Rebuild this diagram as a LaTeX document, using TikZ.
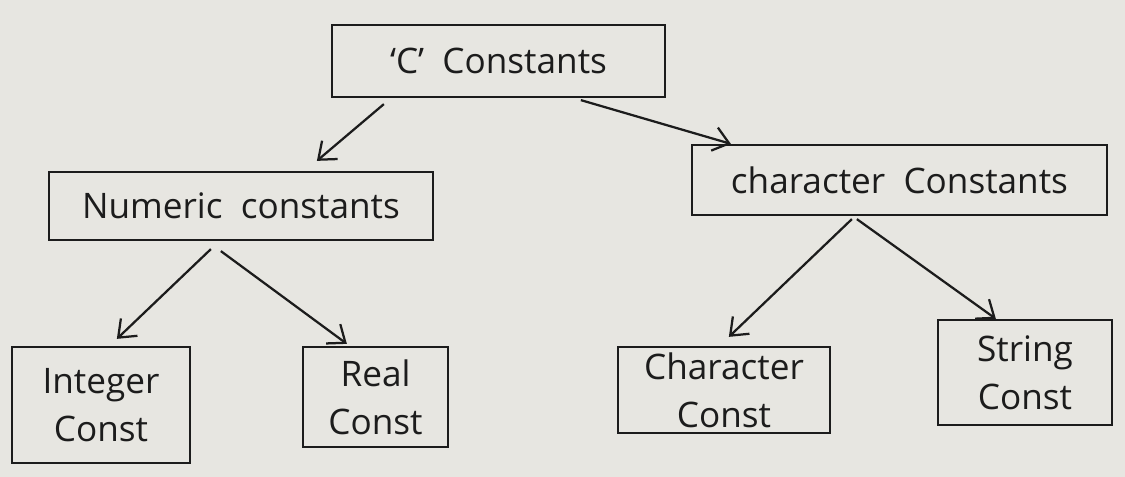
\documentclass[tikz,border=0pt]{standalone}
\usepackage{fontspec}
\setmainfont{Open Sans}
\usetikzlibrary{arrows.meta,calc}
\definecolor{paper}{HTML}{E7E6E1}
\definecolor{ink}{HTML}{1C1C1C}
\tikzset{
  box/.style={draw=ink, line width=1.6pt, rectangle, align=center, inner sep=0pt,
    font=\fontsize{25}{34}\selectfont, text=ink},
  arr/.style={draw=ink, line width=1.6pt, -{Straight Barb[length=3.8mm,width=6mm,line width=1.6pt]}}
}
\begin{document}
\begin{tikzpicture}[x=0.025cm,y=-0.025cm]
\fill[paper] (0,0) rectangle (1125,477);
\useasboundingbox (0,0) rectangle (1125,477);
\node[box, minimum width=333*0.025cm, minimum height=72*0.025cm] (c) at (498.5,61) {`C'\ \ Constants};
\node[box, minimum width=384*0.025cm, minimum height=68*0.025cm] (num) at (241,206) {Numeric\ \ constants};
\node[box, minimum width=415*0.025cm, minimum height=70*0.025cm] (chr) at (899.5,180) {character\ \ Constants};
\node[box, minimum width=178*0.025cm, minimum height=116*0.025cm] (int) at (101,405) {Integer\\Const};
\node[box, minimum width=145*0.025cm, minimum height=100*0.025cm] (real) at (375.5,397) {Real\\Const};
\node[box, minimum width=212*0.025cm, minimum height=86*0.025cm] (cc) at (724,390) {Character\\Const};
\node[box, minimum width=174*0.025cm, minimum height=105*0.025cm] (str) at (1025,372.5) {String\\Const};
\draw[arr] ($(c.south west)+(53,6)$) -- ($(num.north west)+(269,-10)$);
\draw[arr] ($(c.south west)+(250,2)$) -- ($(chr.north west)+(40,0)$);
\draw[arr] ($(num.south west)+(163,8)$) -- ($(int.north west)+(106,-7)$);
\draw[arr] ($(num.south west)+(173,10)$) -- ($(real.north west)+(45,-2)$);
\draw[arr] ($(chr.south west)+(161,3)$) -- ($(cc.north west)+(112,-9)$);
\draw[arr] ($(chr.south west)+(166,3)$) -- ($(str.north west)+(59,0)$);
\end{tikzpicture}
\end{document}
